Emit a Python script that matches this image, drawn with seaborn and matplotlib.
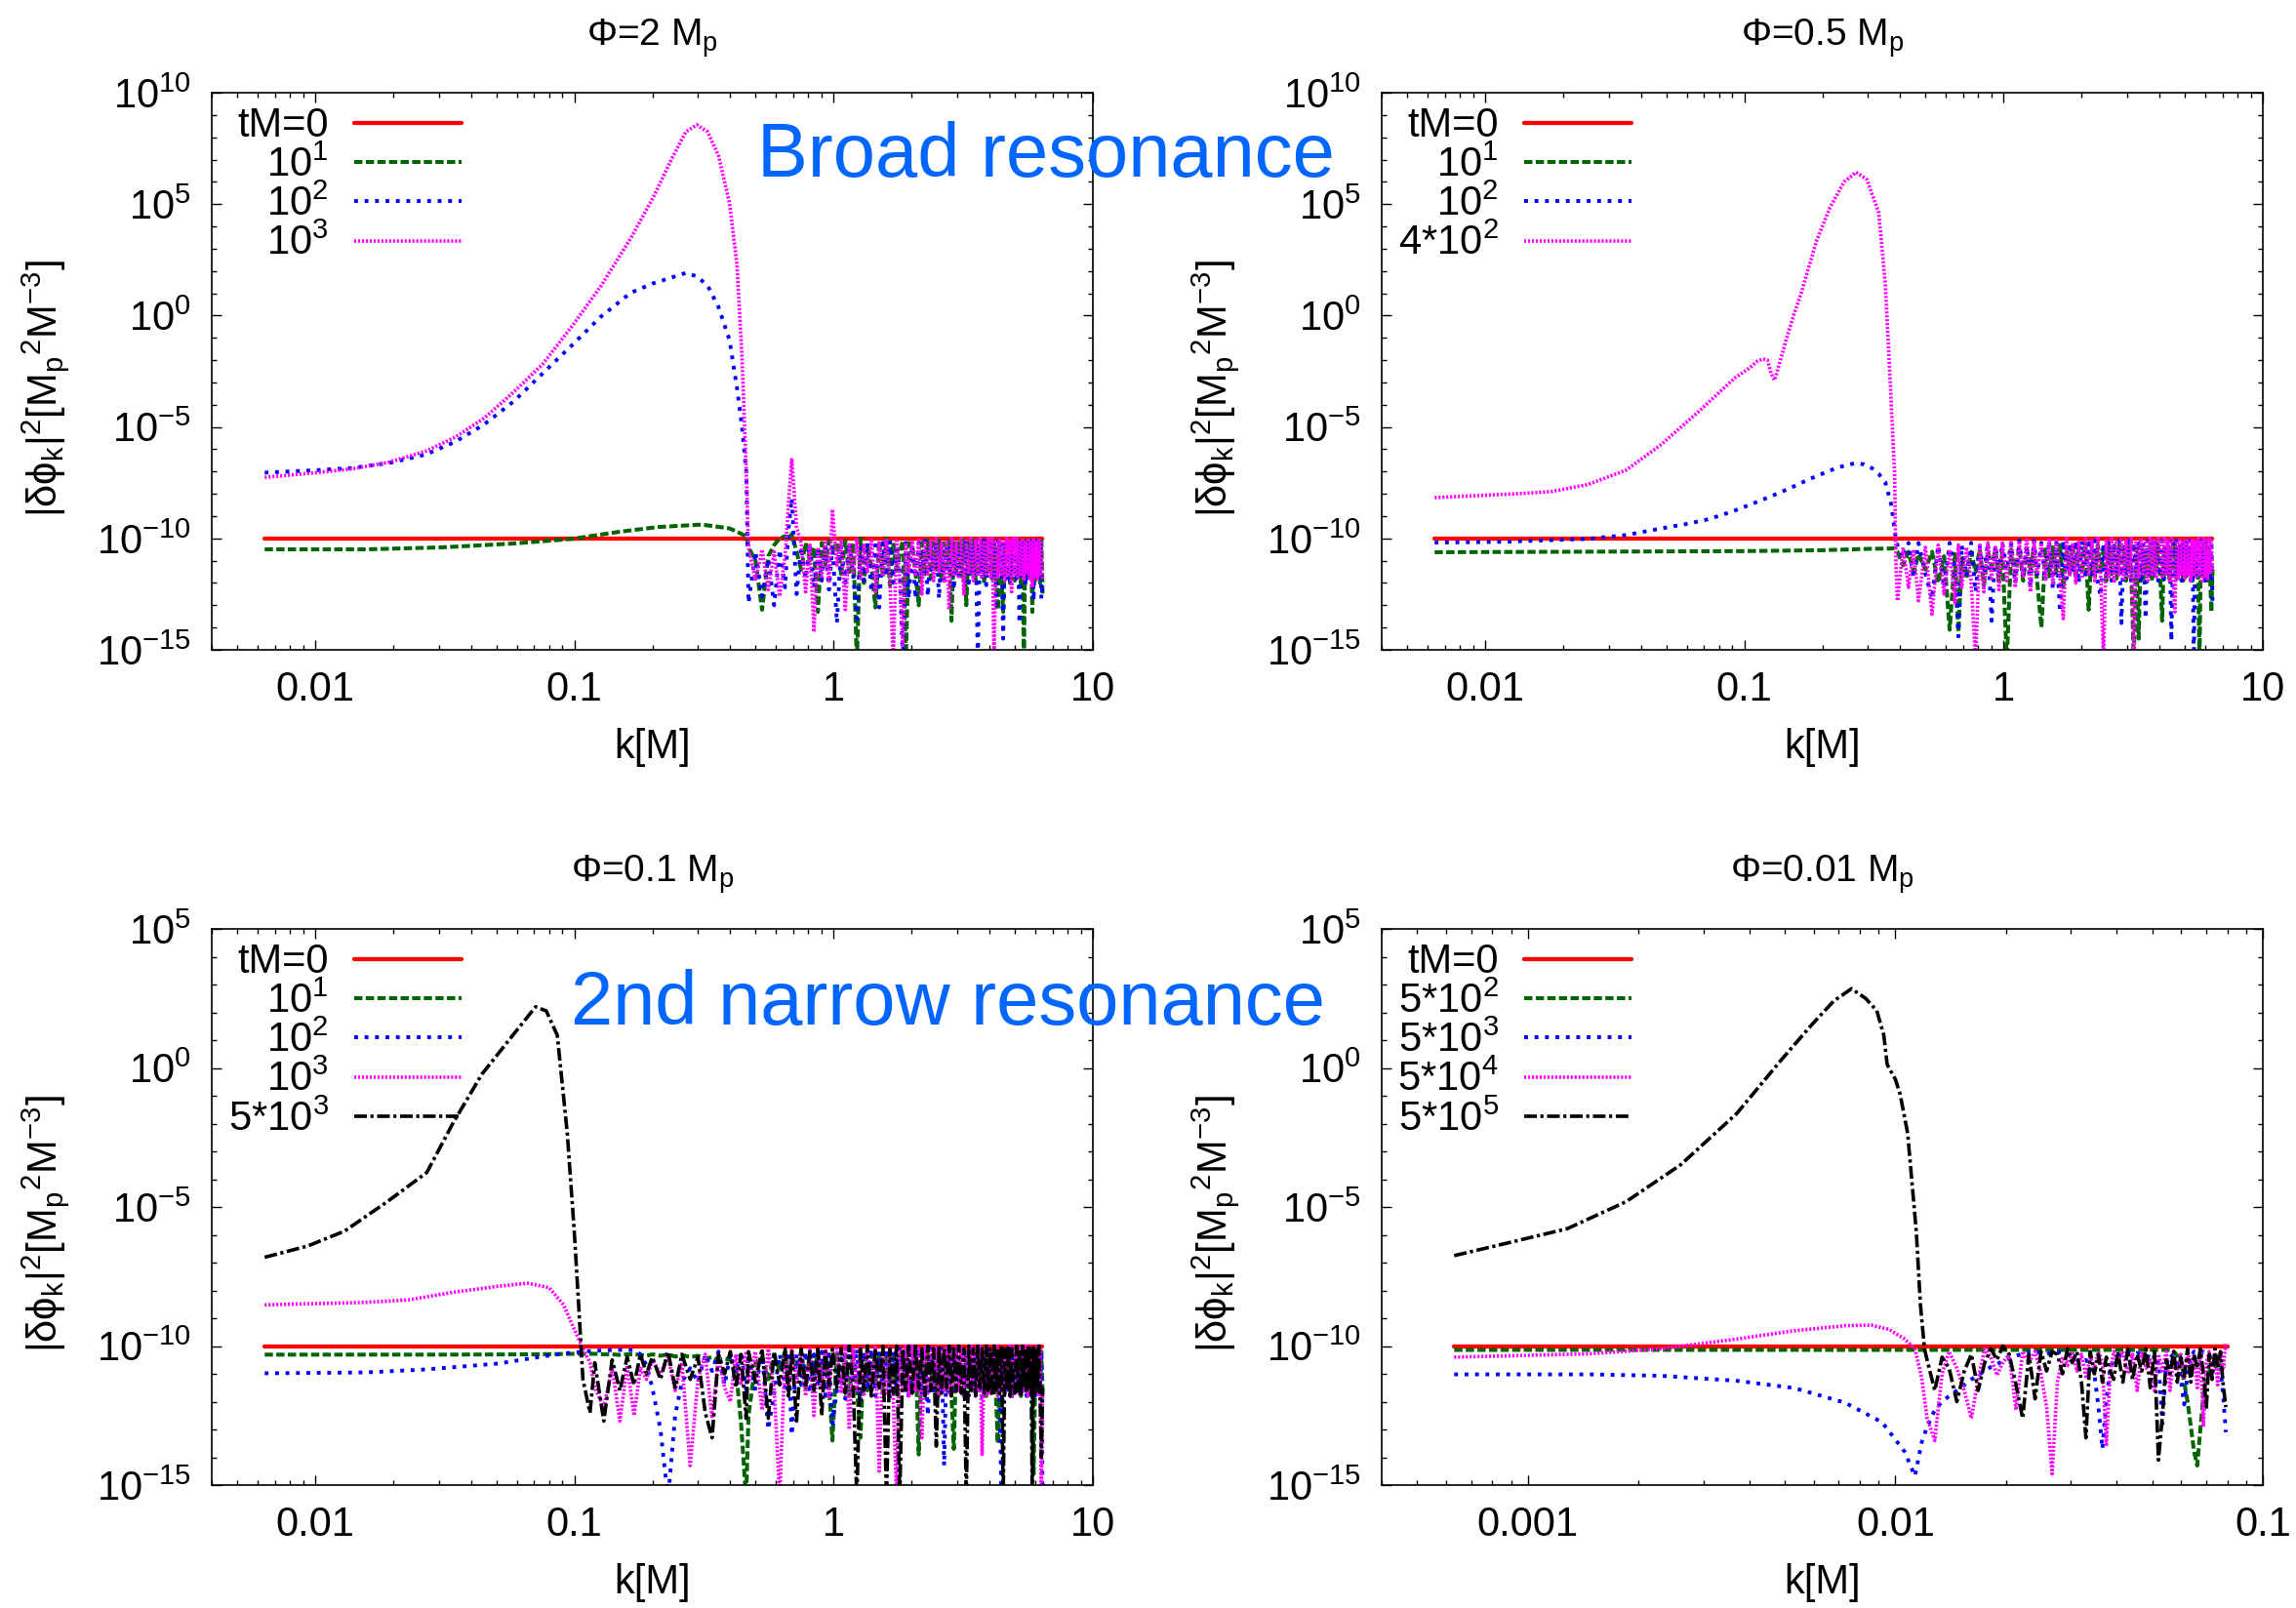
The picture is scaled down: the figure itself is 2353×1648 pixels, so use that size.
import numpy as np
import pandas as pd
import matplotlib
matplotlib.use("Agg")
import matplotlib.pyplot as plt
import seaborn as sns
from matplotlib import font_manager
from matplotlib.ticker import FixedLocator, FixedFormatter, LogLocator, NullFormatter

# ---------------------------------------------------------------------------
# DATA  (values are log10 of |delta phi_k|^2)
# ---------------------------------------------------------------------------
TITLES = ["Φ=2 M$_\\mathrm{p}$", "Φ=0.5 M$_\\mathrm{p}$",
          "Φ=0.1 M$_\\mathrm{p}$", "Φ=0.01 M$_\\mathrm{p}$"]
LEGEND_A = ["tM=0", "$10^1$", "$10^2$", "$10^3$"]
LEGEND_B = ["tM=0", "$10^1$", "$10^2$", "4*$10^2$"]
LEGEND_C = ["tM=0", "$10^1$", "$10^2$", "$10^3$", "5*$10^3$"]
LEGEND_D = ["tM=0", "5*$10^2$", "5*$10^3$", "5*$10^4$", "5*$10^5$"]
X_TICKS_ABC = [0.01, 0.1, 1, 10]
X_LABELS_ABC = ["0.01", "0.1", "1", "10"]
X_TICKS_D = [0.001, 0.01, 0.1]
X_LABELS_D = ["0.001", "0.01", "0.1"]
Y_EXP_TOP = [-15, -10, -5, 0, 5, 10]
Y_EXP_BOTTOM = [-15, -10, -5, 0, 5]

# shared k grid of the noisy high-k region (top panels, and tail of panel C)
NOISE_K = [0.47, 0.50, 0.53, 0.56, 0.59, 0.62, 0.65, 0.67, 0.69, 0.72, 0.75, 0.78, 0.81, 0.84, 0.87, 0.90, 0.93, 0.96, 0.99,
           1.03, 1.07, 1.11, 1.15, 1.19, 1.23, 1.27, 1.31, 1.35, 1.40, 1.45, 1.50, 1.55, 1.60, 1.65, 1.70, 1.75, 1.80, 1.85, 1.90, 1.95,
           2.01, 2.07, 2.13, 2.19, 2.25, 2.31, 2.37, 2.43, 2.49, 2.55, 2.61, 2.67, 2.73, 2.79, 2.85, 2.91, 2.97,
           3.04, 3.11, 3.18, 3.25, 3.32, 3.39, 3.46, 3.53, 3.60, 3.67, 3.74, 3.81, 3.88, 3.95,
           4.02, 4.09, 4.16, 4.23, 4.30, 4.37, 4.44, 4.51, 4.58, 4.65, 4.72, 4.79, 4.86, 4.93,
           5.00, 5.07, 5.14, 5.21, 5.28, 5.35, 5.42, 5.49, 5.56, 5.63, 5.70, 5.77, 5.84, 5.91, 5.98, 6.05, 6.12, 6.19, 6.26, 6.33, 6.40]

# ---- panel A : Phi = 2 Mp ----
A_RED_K = [0.0064, 6.4]
A_RED = [-10.0, -10.0]
A_GREEN_K = [0.0064, 0.0159, 0.0311, 0.0583, 0.0982, 0.15, 0.21, 0.31, 0.397, 0.461]
A_GREEN = [-10.49, -10.49, -10.4, -10.23, -10.02, -9.7, -9.49, -9.38, -9.55, -9.9]
A_SMOOTH_K = [0.0064, 0.0101, 0.0139, 0.0193, 0.0267, 0.0347, 0.045, 0.0583, 0.0757, 0.0982, 0.127,
              0.165, 0.201, 0.236, 0.269, 0.297, 0.327, 0.36, 0.397, 0.424, 0.443, 0.461]
A_BLUE = [-7.05, -6.94, -6.84, -6.62, -6.24, -5.67, -4.88, -3.86, -2.59, -1.32, -0.04,
          1.02, 1.44, 1.7, 1.91, 1.76, 1.34, 0.38, -1.1, -3.23, -4.93, -7.05]
A_MAGENTA = [-7.26, -7.05, -6.88, -6.58, -6.09, -5.46, -4.6, -3.44, -2.17, -0.47, 1.34,
             3.46, 5.27, 6.96, 8.24, 8.56, 8.24, 7.18, 5.05, 2.3, -1.74, -7.05]
A_GREEN_NOISE = [-10.4, -11.0, -13.2, -10.8, -10.3, -10.0, -9.9, -10.1, -9.8, -10.6, -11.4, -10.2, -11.0, -10.4, -13.3, -10.2, -11.2, -10.1, -10.5,
                 -10.2, -11.6, -10.1, -11.5, -10.2, -15.5, -10.0, -12.0, -10.3, -11.3, -13.1, -10.1, -11.7, -10.0, -12.1, -10.2, -11.4, -10.6, -10.1, -15.5, -10.2,
                 -10.3, -11.5, -13.0, -10.2, -11.6, -10.1, -11.8, -10.2, -11.4, -10.1, -12.0, -10.2, -11.5, -10.1, -13.7, -10.2, -11.6,
                 -10.2, -11.7, -10.1, -13.0, -10.2, -11.6, -10.1, -11.9, -10.2, -11.5, -10.1, -12.0, -10.2, -11.6,
                 -10.1, -11.8, -10.2, -11.6, -13.2, -10.1, -11.9, -13.3, -10.2, -11.7, -10.1, -12.0, -10.2, -11.8,
                 -11.9, -10.2, -11.7, -10.1, -12.0, -10.2, -15.5, -10.1, -11.8, -10.2, -11.6, -10.1, -13.3, -10.2, -11.9, -10.1, -11.7, -10.2, -12.0, -10.1, -12.6]
A_BLUE_NOISE = [-12.9, -10.6, -12.6, -10.9, -13.0, -10.5, -12.2, -9.6, -8.2, -12.5, -10.4, -11.8, -10.3, -12.2, -10.4, -11.9, -10.2, -12.3, -10.3,
                -13.8, -10.3, -12.0, -10.2, -11.6, -13.6, -10.4, -11.9, -10.2, -12.4, -10.3, -13.1, -10.2, -11.7, -10.1, -12.0, -10.3, -11.5, -15.5, -10.2, -12.7,
                -10.3, -12.7, -10.2, -11.8, -10.1, -12.6, -10.2, -11.6, -10.1, -12.7, -10.3, -11.9, -10.2, -11.6, -10.1, -12.3, -10.2,
                -11.7, -10.2, -11.9, -10.1, -12.0, -10.2, -11.6, -10.1, -15.5, -10.2, -11.8, -10.1, -12.1, -10.2,
                -10.1, -11.9, -10.2, -13.0, -10.1, -11.7, -10.2, -14.5, -10.1, -11.8, -10.2, -12.0, -10.1, -11.6,
                -10.2, -11.8, -10.1, -13.8, -10.2, -11.7, -10.1, -12.0, -10.2, -11.9, -10.1, -11.7, -10.2, -12.8, -10.1, -11.8, -10.2, -11.9, -10.1, -12.7, -11.9]
A_MAGENTA_NOISE = [-10.4, -11.9, -10.5, -12.3, -10.6, -12.6, -10.8, -8.5, -6.4, -9.5, -10.2, -12.4, -10.3, -14.2, -10.4, -11.8, -10.1, -12.0, -8.7,
                   -11.2, -10.1, -13.2, -10.2, -11.6, -10.0, -11.8, -10.3, -11.5, -10.1, -12.4, -10.2, -11.7, -10.0, -11.9, -15.5, -10.1, -11.8, -14.8, -10.2, -11.6,
                   -10.1, -11.7, -10.0, -12.5, -10.2, -11.6, -10.1, -11.9, -10.0, -11.5, -10.2, -12.0, -10.1, -13.2, -10.0, -11.7, -10.2,
                   -11.8, -10.0, -12.5, -10.1, -11.6, -10.0, -11.9, -10.1, -11.7, -10.0, -11.8, -10.1, -11.6, -10.0,
                   -11.7, -10.0, -15.5, -10.1, -11.8, -10.0, -11.6, -10.1, -11.9, -10.0, -11.7, -10.1, -12.4, -10.0,
                   -11.6, -10.0, -11.8, -10.1, -11.7, -10.0, -11.9, -10.1, -11.6, -10.0, -11.8, -10.1, -12.2, -10.0, -11.7, -10.1, -11.9, -10.0, -11.6, -10.1, -11.8]

# ---- panel B : Phi = 0.5 Mp ----
B_RED_K = [0.0064, 6.4]
B_RED = [-10.0, -10.0]
B_GREEN_K = [0.0064, 0.02, 0.1, 0.2, 0.3, 0.38, 0.39, 0.41, 0.43, 0.45]
B_GREEN = [-10.62, -10.6, -10.57, -10.53, -10.47, -10.45, -10.6, -11.2, -10.6, -11.5]
B_BLUE_K = [0.0064, 0.012, 0.025, 0.035, 0.048, 0.06, 0.071, 0.082, 0.092, 0.11, 0.127, 0.15, 0.176, 0.2,
            0.227, 0.25, 0.27, 0.29, 0.31, 0.33, 0.35, 0.37, 0.38, 0.385, 0.39, 0.41, 0.43, 0.45]
B_BLUE = [-10.19, -10.15, -10.02, -9.85, -9.55, -9.35, -9.17, -8.95, -8.75, -8.4, -8.11, -7.75, -7.37, -7.1,
          -6.84, -6.7, -6.62, -6.68, -6.84, -7.1, -7.47, -8.54, -9.6, -10.1, -10.3, -10.9, -10.2, -11.8]
B_MAGENTA_K = [0.0064, 0.0131, 0.018, 0.025, 0.035, 0.048, 0.067, 0.092, 0.105, 0.112, 0.118, 0.123, 0.127, 0.131, 0.138, 0.145,
               0.155, 0.166, 0.19, 0.214, 0.243, 0.27, 0.297, 0.33, 0.35, 0.365, 0.38, 0.385, 0.39, 0.41, 0.43, 0.45]
B_MAGENTA = [-8.17, -8.0, -7.9, -7.58, -6.94, -5.78, -4.29, -2.8, -2.35, -2.06, -1.95, -2.0, -2.6, -2.9, -2.0, -1.1,
             0.0, 1.02, 3.35, 4.84, 6.0, 6.43, 6.11, 4.63, 1.44, -2.8, -7.05, -11.3, -12.8, -10.4, -12.2, -10.5]
B_GREEN_NOISE = [-10.7, -11.4, -10.6, -12.0, -10.8, -14.1, -10.7, -14.2, -10.9, -11.8, -10.6, -11.5, -10.5, -12.1, -10.6, -11.3, -10.5, -11.9, -10.6,
                 -15.5, -10.5, -11.6, -10.4, -11.9, -10.5, -11.4, -10.4, -12.0, -14.0, -10.5, -11.7, -10.4, -11.5, -10.3, -12.2, -10.4, -11.6, -10.3, -11.8, -10.4,
                 -11.5, -10.3, -13.2, -10.4, -11.7, -10.3, -11.5, -10.4, -11.9, -10.3, -11.6, -10.4, -11.8, -10.3, -11.5, -10.4, -11.9,
                 -10.3, -11.6, -15.5, -10.4, -14.5, -10.3, -11.8, -10.4, -11.6, -10.3, -11.9, -10.4, -11.5, -10.3,
                 -11.7, -13.7, -10.4, -11.6, -10.3, -11.9, -10.4, -11.5, -10.3, -11.8, -10.4, -11.6, -10.3, -11.9,
                 -10.4, -11.7, -10.3, -11.5, -10.4, -11.9, -10.3, -11.6, -10.4, -11.8, -15.5, -10.3, -11.7, -10.4, -11.5, -10.3, -11.9, -10.4, -11.6, -13.3, -11.4]
B_BLUE_NOISE = [-10.2, -11.6, -12.7, -10.3, -12.2, -10.2, -11.4, -14.4, -10.3, -11.7, -10.2, -12.4, -10.4, -11.6, -10.2, -13.7, -10.3, -11.5, -10.2,
                -11.4, -10.2, -12.0, -10.1, -11.7, -10.3, -12.2, -10.1, -11.6, -10.2, -11.9, -10.1, -12.3, -10.2, -13.3, -10.1, -11.8, -10.2, -11.6, -10.1, -12.0,
                -10.1, -11.8, -10.2, -11.6, -10.1, -12.0, -12.6, -10.2, -11.7, -10.1, -11.9, -10.2, -11.6, -10.1, -13.8, -10.2, -11.7,
                -10.1, -11.9, -10.2, -11.7, -10.1, -12.0, -10.2, -13.6, -10.1, -11.8, -10.2, -11.6, -10.1, -11.9,
                -11.6, -10.1, -11.9, -10.2, -11.7, -10.1, -14.6, -10.2, -11.8, -10.1, -11.6, -10.2, -11.9, -10.1,
                -11.8, -10.2, -11.6, -10.1, -11.9, -10.2, -15.5, -10.1, -11.7, -10.2, -11.8, -10.1, -11.6, -10.2, -11.9, -10.1, -11.7, -10.2, -11.8, -10.1, -13.0]
B_MAGENTA_NOISE = [-12.8, -10.4, -13.4, -10.3, -12.5, -10.5, -12.9, -10.3, -12.2, -10.4, -11.9, -15.5, -10.3, -12.4, -10.2, -11.8, -10.4, -12.3, -10.2,
                   -11.9, -10.1, -12.2, -10.2, -11.7, -10.0, -12.4, -10.1, -11.6, -10.2, -11.9, -10.0, -12.1, -10.1, -11.8, -13.6, -10.0, -11.7, -10.2, -12.0, -10.1,
                   -11.8, -10.0, -11.6, -10.1, -11.9, -10.0, -11.7, -15.5, -10.1, -11.8, -10.0, -12.0, -10.1, -11.7, -10.0, -11.9, -10.1,
                   -11.7, -10.0, -15.5, -10.1, -11.8, -10.0, -11.6, -10.1, -11.9, -10.0, -11.7, -10.1, -11.8, -10.0,
                   -10.1, -11.8, -10.0, -11.6, -10.1, -11.9, -10.0, -11.7, -13.3, -10.1, -11.8, -10.0, -11.6, -10.1,
                   -11.8, -10.0, -11.6, -10.1, -11.9, -10.0, -11.7, -10.1, -11.8, -10.0, -11.6, -10.1, -11.9, -10.0, -11.7, -10.1, -11.8, -10.0, -11.6, -10.1, -11.5]

# ---- panel C : Phi = 0.1 Mp ----
C_RED_K = [0.0064, 6.4]
C_RED = [-10.0, -10.0]
C_NOISE_K0 = [0.115, 0.12, 0.13, 0.14, 0.15, 0.16, 0.17, 0.18, 0.19, 0.20, 0.215, 0.23,
              0.245, 0.26, 0.28, 0.30, 0.32, 0.34, 0.36, 0.38, 0.40, 0.42, 0.44, 0.46]
C_GREEN_K = [0.0064, 0.03, 0.07, 0.1, 0.11]
C_GREEN = [-10.31, -10.31, -10.3, -10.28, -10.28]
C_BLUE_K = [0.0064, 0.0157, 0.027, 0.051, 0.076, 0.095, 0.11]
C_BLUE = [-10.98, -10.95, -10.84, -10.63, -10.37, -10.25, -10.2]
C_MAGENTA_K = [0.0064, 0.0158, 0.023, 0.034, 0.051, 0.066, 0.08, 0.091, 0.1, 0.108]
C_MAGENTA = [-8.52, -8.43, -8.34, -8.07, -7.85, -7.74, -7.9, -8.52, -9.4, -10.1]
C_BLACK_K = [0.0064, 0.0094, 0.013, 0.019, 0.027, 0.034, 0.044, 0.058, 0.071, 0.078, 0.086, 0.094, 0.1, 0.104, 0.108]
C_BLACK = [-6.81, -6.4, -5.87, -4.81, -3.76, -2.0, -0.23, 1.18, 2.2, 2.05, 1.18, -2.35, -5.87, -8.52, -11.2]
C_GREEN_NOISE = [-10.28, -10.28, -10.3, -10.3, -10.32, -10.3, -10.3, -10.32, -10.35, -10.3, -10.35, -10.3,
                 -10.38, -10.32, -10.4, -10.35, -10.45, -10.4, -10.5, -10.45, -10.5, -10.8, -12.8, -15.5,
                 -12.5, -10.6, -10.4, -11.2, -10.3, -10.9, -10.2, -11.3, -10.3, -10.8, -10.2, -11.5, -10.3, -11.0, -10.2, -11.2, -10.3, -11.4, -13.4,
                 -10.2, -11.4, -10.3, -11.8, -10.2, -11.5, -13.3, -10.2, -11.6, -10.3, -11.4, -10.2, -11.7, -10.3, -11.5, -10.2, -11.8, -10.3, -11.4, -10.2, -11.6,
                 -11.5, -10.2, -13.9, -10.3, -11.6, -10.2, -11.4, -10.3, -11.7, -10.2, -11.5, -10.3, -11.6, -10.2, -11.8, -13.7, -10.3,
                 -11.6, -10.2, -11.8, -10.3, -11.5, -10.2, -11.7, -10.3, -11.6, -10.2, -11.5, -10.3, -11.8, -10.2,
                 -10.3, -11.6, -10.2, -11.8, -13.5, -10.3, -11.6, -10.2, -11.7, -10.3, -11.5, -10.2, -11.8, -10.3,
                 -11.7, -10.2, -11.6, -10.3, -11.8, -10.2, -11.5, -10.3, -11.7, -10.2, -11.6, -10.3, -11.8, -14.6, -11.7, -10.2, -11.6, -10.3, -11.5, -10.2, -11.8]
C_BLUE_NOISE = [-10.18, -10.17, -10.16, -10.15, -10.14, -10.14, -10.15, -10.3, -10.7, -11.5, -13.0, -15.5,
                -12.5, -11.3, -10.8, -11.3, -10.3, -10.9, -10.2, -11.4, -10.3, -11.0, -10.2, -11.6,
                -10.3, -11.6, -10.2, -13.0, -11.7, -10.3, -11.5, -10.2, -13.2, -10.3, -11.4, -10.2, -11.7, -10.3, -11.5, -10.2, -11.8, -10.3, -12.8,
                -11.6, -10.1, -11.9, -10.2, -11.7, -10.1, -12.0, -10.2, -11.6, -10.1, -11.8, -10.2, -11.5, -10.1, -11.9, -10.2, -11.7, -10.1, -11.6, -10.2, -11.9,
                -10.2, -11.6, -10.1, -11.8, -10.2, -12.5, -10.1, -11.7, -10.2, -11.6, -10.1, -14.3, -10.2, -11.8, -10.1, -11.6, -10.2,
                -11.7, -10.1, -11.6, -10.2, -11.8, -10.1, -11.5, -10.2, -11.7, -10.1, -11.9, -10.2, -11.6, -10.1,
                -10.2, -11.7, -10.1, -11.6, -10.2, -11.8, -15.5, -10.1, -11.6, -10.2, -11.7, -10.1, -11.9, -10.2,
                -11.6, -10.1, -11.8, -10.2, -11.7, -10.1, -11.6, -10.2, -11.8, -10.1, -11.7, -10.2, -11.6, -10.1, -11.8, -10.2, -11.7, -10.1, -11.6, -10.2, -15.5]
C_MAGENTA_NOISE = [-10.6, -11.5, -12.2, -10.8, -12.7, -10.7, -12.5, -10.8, -11.2, -10.5, -11.0, -10.4,
                   -11.6, -10.6, -14.3, -11.2, -10.3, -12.6, -10.4, -11.5, -12.0, -10.3, -11.4, -10.2,
                   -11.3, -10.2, -12.3, -10.1, -11.5, -15.5, -10.2, -11.6, -10.1, -11.3, -10.2, -11.8, -10.1, -12.5, -10.2, -11.4, -10.1, -11.9, -10.2,
                   -10.1, -11.7, -10.0, -13.0, -10.1, -11.6, -10.0, -11.8, -10.1, -11.5, -10.0, -14.5, -10.1, -11.7, -10.0, -11.9, -15.5, -10.1, -11.6, -10.0, -11.8,
                   -10.0, -11.6, -10.1, -13.3, -10.0, -11.7, -10.1, -11.5, -10.0, -11.8, -10.1, -11.6, -10.0, -11.7, -10.1, -11.5, -10.0,
                   -11.6, -10.0, -11.8, -10.1, -11.5, -10.0, -11.7, -10.1, -11.6, -10.0, -13.9, -10.1, -11.8, -10.0,
                   -11.7, -10.1, -11.5, -10.0, -11.8, -10.1, -11.6, -10.0, -11.7, -10.1, -11.5, -10.0, -11.8, -10.1,
                   -10.0, -11.6, -10.1, -11.8, -10.0, -11.7, -10.1, -11.5, -10.0, -11.8, -10.1, -11.6, -10.0, -11.7, -10.1, -11.5, -10.0, -11.8, -10.1, -15.5, -11.6]
C_BLACK_NOISE = [-12.4, -10.6, -12.7, -10.5, -11.6, -10.4, -11.4, -10.3, -11.0, -10.4, -11.2, -10.2,
                 -11.5, -10.3, -11.2, -10.4, -12.4, -13.3, -10.3, -11.0, -10.2, -11.5, -10.3, -12.6,
                 -10.2, -11.3, -10.1, -12.6, -10.2, -11.4, -10.1, -11.8, -10.2, -12.7, -10.1, -11.5, -10.2, -11.6, -10.1, -12.5, -10.2, -11.4, -10.1,
                 -11.5, -10.1, -11.7, -10.0, -11.4, -15.5, -10.1, -11.6, -10.0, -11.8, -10.1, -11.5, -10.0, -15.5, -10.1, -11.7, -10.0, -15.5, -10.1, -11.6, -10.0,
                 -11.7, -10.0, -11.5, -10.1, -11.8, -10.0, -11.6, -10.1, -13.6, -10.0, -11.7, -10.1, -11.5, -10.0, -11.8, -10.1, -11.6,
                 -10.0, -11.7, -10.1, -15.5, -10.0, -11.6, -10.1, -11.8, -10.0, -11.5, -10.1, -11.7, -10.0, -11.6,
                 -10.1, -11.8, -10.0, -11.6, -10.1, -11.7, -10.0, -15.5, -10.1, -11.6, -10.0, -11.8, -10.1, -11.5,
                 -11.7, -10.0, -11.6, -10.1, -11.8, -10.0, -11.5, -10.1, -11.7, -10.0, -11.6, -10.1, -15.5, -10.0, -11.7, -10.1, -11.6, -10.0, -11.8, -14.0, -11.5]

# ---- panel D : Phi = 0.01 Mp ----
D_RED_K = [0.00063, 0.08]
D_RED = [-10.0, -10.0]
D_NOISE_K = [0.0122, 0.0128, 0.0134, 0.0140, 0.0147, 0.0154, 0.0161, 0.0168, 0.0175, 0.0182, 0.0189, 0.0196,
             0.0204, 0.0213, 0.0222, 0.0231, 0.0240, 0.0249, 0.0258, 0.0267, 0.0276, 0.0285, 0.0294, 0.0303,
             0.0312, 0.0321, 0.0330, 0.0339, 0.0348, 0.0357, 0.0366, 0.0375, 0.0384, 0.0393,
             0.0403, 0.0416, 0.0429, 0.0442, 0.0455, 0.0468, 0.0481, 0.0494, 0.0507, 0.0520, 0.0533, 0.0546,
             0.0559, 0.0572, 0.0585, 0.0598, 0.0611, 0.0624, 0.0637, 0.0650, 0.0663, 0.0676, 0.0689, 0.0702,
             0.0715, 0.0728, 0.0741, 0.0754, 0.0767, 0.0780, 0.0793]
D_GREEN_K = [0.00063, 0.0559, 0.0572, 0.0585, 0.0598, 0.0611, 0.0624, 0.0637, 0.0650, 0.0663, 0.0676,
             0.0689, 0.0702, 0.0715, 0.0728, 0.0741, 0.0754, 0.0767, 0.0780, 0.0793]
D_GREEN = [-10.14, -10.14, -10.2, -10.35, -10.7, -11.3, -12.0, -12.9, -13.8, -14.3, -13.0,
           -11.8, -11.1, -10.9, -10.8, -10.75, -10.7, -10.7, -10.7, -10.7]
D_BLUE_K = [0.00063, 0.00147, 0.0023, 0.0037, 0.0053, 0.0073, 0.0092, 0.0106, 0.0113, 0.0118]
D_BLUE = [-11.02, -11.02, -11.07, -11.25, -11.51, -12.04, -12.74, -13.8, -14.68, -13.45]
D_MAGENTA_K = [0.00063, 0.00147, 0.0023, 0.0037, 0.0053, 0.0073, 0.0086, 0.0096, 0.0106, 0.0113, 0.0118]
D_MAGENTA = [-10.4, -10.28, -10.1, -9.75, -9.45, -9.27, -9.25, -9.4, -9.75, -10.1, -11.16]
D_BLACK_K = [0.00063, 0.00093, 0.00128, 0.00185, 0.0026, 0.0037, 0.0049, 0.0059, 0.0068, 0.0076,
             0.0083, 0.0089, 0.0093, 0.0095, 0.0100, 0.0103, 0.0108, 0.0114, 0.0117, 0.0120]
D_BLACK = [-6.75, -6.22, -5.78, -4.81, -3.49, -1.64, 0.3, 1.53, 2.41, 2.85,
           2.5, 2.06, 1.18, 0.12, -0.41, -0.94, -2.35, -5.87, -8.52, -10.1]
D_BLUE_NOISE = [-12.9, -12.3, -12.0, -11.8, -11.6, -11.4, -11.2, -11.05, -10.9, -10.75, -10.65, -10.55,
                -10.45, -10.35, -10.28, -10.22, -10.2, -10.25, -10.3, -10.22, -10.2, -10.25, -10.3, -10.4,
                -10.5, -10.6, -10.5, -10.7, -11.0, -12.2, -13.7, -12.0, -10.8, -10.5,
                -10.4, -10.3, -10.2, -10.3, -10.25, -10.3, -10.35, -10.4, -10.5, -10.6, -12.8, -10.7,
                -10.3, -10.4, -10.6, -11.2, -12.1, -11.0, -10.4, -10.2, -10.25, -10.3, -10.2, -10.3,
                -10.4, -10.3, -10.4, -10.5, -10.8, -11.8, -13.1]
D_MAGENTA_NOISE = [-12.6, -13.4, -11.0, -10.2, -10.8, -11.6, -12.6, -11.2, -10.1, -10.4, -11.05, -10.6,
                   -10.3, -12.3, -10.2, -10.6, -10.2, -11.0, -12.2, -14.6, -11.3, -10.4, -10.7, -10.2,
                   -10.9, -10.3, -11.1, -10.4, -10.8, -10.2, -10.6, -13.6, -11.0, -10.2,
                   -10.5, -10.2, -11.0, -10.3, -11.6, -10.2, -10.8, -10.5, -11.6, -10.3, -10.9, -10.2,
                   -11.6, -10.4, -10.9, -10.3, -11.2, -10.2, -10.7, -10.3, -11.5, -10.2, -12.9, -10.6,
                   -10.2, -11.0, -10.3, -11.4, -10.2, -10.8, -9.9]
D_BLACK_NOISE = [-10.5, -11.6, -10.4, -10.8, -12.0, -10.9, -10.3, -11.6, -10.6, -10.1, -10.5, -10.0,
                 -10.3, -11.4, -12.6, -10.3, -11.9, -10.2, -10.9, -10.2, -10.3, -11.0, -10.1, -10.6,
                 -10.2, -11.3, -13.3, -10.2, -11.0, -10.3, -11.3, -10.4, -10.9, -11.2,
                 -10.2, -11.3, -10.1, -11.2, -10.3, -10.9, -10.1, -11.5, -10.2, -14.1, -12.5, -10.5,
                 -11.0, -10.2, -11.3, -10.4, -11.1, -10.1, -11.3, -10.3, -10.8, -10.1, -11.0, -12.2,
                 -10.3, -11.2, -10.1, -10.8, -10.2, -11.4, -12.2]

# ---------------------------------------------------------------------------
# STYLE
# ---------------------------------------------------------------------------
sns.set_theme(style="ticks")
plt.rcParams.update({
    "font.family": ["Liberation Sans", "DejaVu Sans"],
    "mathtext.fontset": "custom",
    "mathtext.rm": "Liberation Sans",
    "mathtext.it": "Liberation Sans:italic",
    "mathtext.bf": "Liberation Sans:bold",
    "mathtext.default": "regular",
    "axes.edgecolor": "black",
    "axes.labelcolor": "black",
    "text.color": "black",
    "xtick.color": "black",
    "ytick.color": "black",
    "axes.linewidth": 1.2,
})

STYLES = {
    "red": dict(color="#ff0000", linewidth=3.1, linestyle="-"),
    "green": dict(color="#006400", linewidth=2.9, linestyle=(0, (2.1, 0.85))),
    "blue": dict(color="#0000ff", linewidth=2.8, linestyle=(0, (1.0, 1.75))),
    "magenta": dict(color="#ff00ff", linewidth=2.6, linestyle=(0, (0.6, 0.5))),
    "black": dict(color="#000000", linewidth=2.6, linestyle=(0, (3.6, 1.0, 0.9, 1.0))),
}
FS = 30


def join(k1, v1, k2=None, v2=None):
    k = list(k1) + (list(k2) if k2 is not None else [])
    v = list(v1) + (list(v2) if v2 is not None else [])
    n = min(len(k), len(v))
    if len(k) != len(v):
        print("length mismatch", len(k), len(v))
    return k[:n], v[:n]


def draw(ax, k, logv, key):
    df = pd.DataFrame({"k": k, "P": np.power(10.0, np.asarray(logv, dtype=float))})
    sns.lineplot(data=df, x="k", y="P", ax=ax, estimator=None, sort=False,
                 legend=False, **STYLES[key])
    return ax.get_lines()[-1]


def setup(ax, xlim, ylim_exp):
    ax.set_xscale("log")
    ax.set_yscale("log")
    ax.set_xlim(*xlim)
    ax.set_ylim(10.0 ** ylim_exp[0], 10.0 ** ylim_exp[1])


def finish(ax, xticks, xlabels, yexps, title, handles, labels):
    ax.xaxis.set_major_locator(FixedLocator(xticks))
    ax.xaxis.set_major_formatter(FixedFormatter(xlabels))
    ax.xaxis.set_minor_locator(LogLocator(base=10, subs=np.arange(2, 10), numticks=60))
    ax.xaxis.set_minor_formatter(NullFormatter())
    ax.yaxis.set_major_locator(FixedLocator([10.0 ** e for e in yexps]))
    ax.yaxis.set_major_formatter(FixedFormatter(["$10^{%d}$" % e for e in yexps]))
    ax.yaxis.set_minor_locator(LogLocator(base=10, subs=(1.0,), numticks=60))
    ax.yaxis.set_minor_formatter(NullFormatter())
    ax.tick_params(which="both", direction="in", top=True, right=True,
                   width=1.0, labelsize=FS, pad=15)
    ax.tick_params(which="major", length=7.2)
    ax.tick_params(which="minor", length=3.6)
    for s in ax.spines.values():
        s.set_linewidth(1.2)
        s.set_color("black")
    ax.set_xlabel("k[M]", fontsize=FS)
    ax.xaxis.set_label_coords(0.5, -0.14)
    ax.set_ylabel("|δϕ$_\\mathrm{k}$|$^2$[M$_\\mathrm{p}$$^2$M$^{-3}$]", fontsize=FS)
    ax.yaxis.set_label_coords(-0.16, 0.47)
    ax.set_title(title, fontsize=28, pad=35)
    ax.legend(handles, labels, loc="upper right", bbox_to_anchor=(0.2835, 0.975),
              frameon=False, markerfirst=False, fontsize=FS, handlelength=2.65,
              handletextpad=0.62, labelspacing=0.0, borderpad=0.0, borderaxespad=0.0)


fig = plt.figure(figsize=(23.53, 16.48), dpi=100)
W, H = 2353.0, 1648.0
axA = fig.add_axes([217 / W, 1 - 666 / H, 903 / W, 571 / H])
axB = fig.add_axes([1416 / W, 1 - 666 / H, 903 / W, 571 / H])
axC = fig.add_axes([217 / W, 1 - 1522 / H, 903 / W, 570 / H])
axD = fig.add_axes([1416 / W, 1 - 1522 / H, 903 / W, 570 / H])

# panel A
setup(axA, (0.004, 10), (-15, 10))
hA = [draw(axA, *join(A_RED_K, A_RED), "red"),
      draw(axA, *join(A_GREEN_K, A_GREEN, NOISE_K, A_GREEN_NOISE), "green"),
      draw(axA, *join(A_SMOOTH_K, A_BLUE, NOISE_K, A_BLUE_NOISE), "blue"),
      draw(axA, *join(A_SMOOTH_K, A_MAGENTA, NOISE_K, A_MAGENTA_NOISE), "magenta")]
finish(axA, X_TICKS_ABC, X_LABELS_ABC, Y_EXP_TOP, TITLES[0], hA, LEGEND_A)

# panel B
setup(axB, (0.004, 10), (-15, 10))
hB = [draw(axB, *join(B_RED_K, B_RED), "red"),
      draw(axB, *join(B_GREEN_K, B_GREEN, NOISE_K, B_GREEN_NOISE), "green"),
      draw(axB, *join(B_BLUE_K, B_BLUE, NOISE_K, B_BLUE_NOISE), "blue"),
      draw(axB, *join(B_MAGENTA_K, B_MAGENTA, NOISE_K, B_MAGENTA_NOISE), "magenta")]
finish(axB, X_TICKS_ABC, X_LABELS_ABC, Y_EXP_TOP, TITLES[1], hB, LEGEND_B)

# panel C
C_NOISE_K = list(C_NOISE_K0) + list(NOISE_K)
setup(axC, (0.004, 10), (-15, 5))
hC = [draw(axC, *join(C_RED_K, C_RED), "red"),
      draw(axC, *join(C_GREEN_K, C_GREEN, C_NOISE_K, C_GREEN_NOISE), "green"),
      draw(axC, *join(C_BLUE_K, C_BLUE, C_NOISE_K, C_BLUE_NOISE), "blue"),
      draw(axC, *join(C_MAGENTA_K, C_MAGENTA, C_NOISE_K, C_MAGENTA_NOISE), "magenta"),
      draw(axC, *join(C_BLACK_K, C_BLACK, C_NOISE_K, C_BLACK_NOISE), "black")]
finish(axC, X_TICKS_ABC, X_LABELS_ABC, Y_EXP_BOTTOM, TITLES[2], hC, LEGEND_C)

# panel D
setup(axD, (0.0004, 0.1), (-15, 5))
hD = [draw(axD, *join(D_RED_K, D_RED), "red"),
      draw(axD, *join(D_GREEN_K, D_GREEN), "green"),
      draw(axD, *join(D_BLUE_K, D_BLUE, D_NOISE_K, D_BLUE_NOISE), "blue"),
      draw(axD, *join(D_MAGENTA_K, D_MAGENTA, D_NOISE_K, D_MAGENTA_NOISE), "magenta"),
      draw(axD, *join(D_BLACK_K, D_BLACK, D_NOISE_K, D_BLACK_NOISE), "black")]
finish(axD, X_TICKS_D, X_LABELS_D, Y_EXP_BOTTOM, TITLES[3], hD, LEGEND_D)

# annotations
fig.text(776 / W, 1 - 181 / H, "Broad resonance", fontsize=56, color="#0066ff",
         ha="left", va="baseline")
fig.text(585 / W, 1 - 1050 / H, "2nd narrow resonance", fontsize=56, color="#0066ff",
         ha="left", va="baseline")

fig.savefig("out.png", dpi=100)
